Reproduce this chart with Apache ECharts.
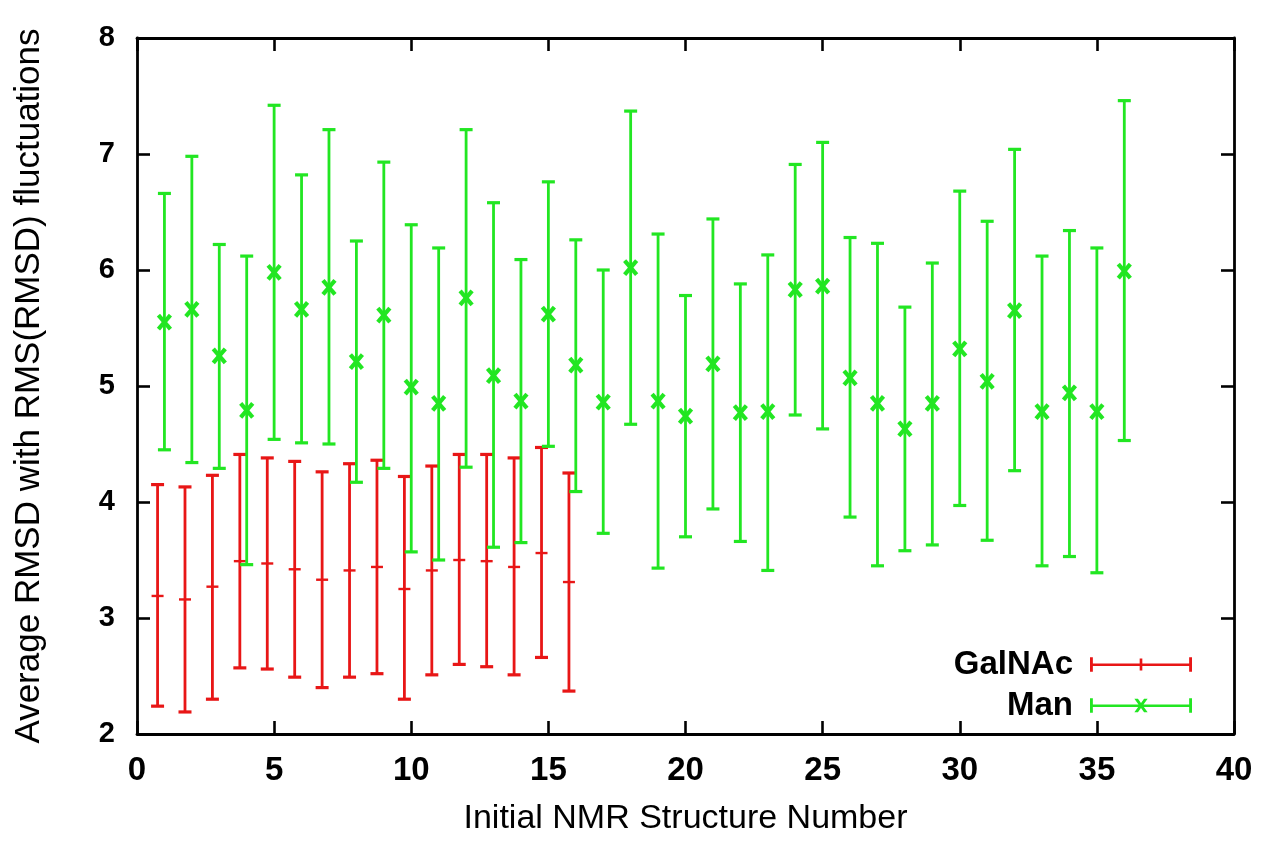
<!DOCTYPE html>
<html>
<head>
<meta charset="utf-8">
<script src="https://cdn.jsdelivr.net/npm/echarts@6/dist/echarts.min.js"></script>
<style>
html,body{margin:0;padding:0;background:#fff;}
#chart{width:1264px;height:843px;}
</style>
</head>
<body>
<div id="chart"></div>
<script>
// ---- data ----
const seriesNames = ['GalNAc', 'Man'];
const galnacX = [0.75, 1.75, 2.75, 3.75, 4.75, 5.75, 6.75, 7.75, 8.75, 9.75, 10.75, 11.75, 12.75, 13.75, 14.75, 15.75];
const galnacMean = [3.19, 3.16, 3.27, 3.49, 3.47, 3.42, 3.33, 3.41, 3.44, 3.25, 3.41, 3.50, 3.49, 3.44, 3.56, 3.31];
const galnacLow  = [2.24, 2.19, 2.30, 2.57, 2.56, 2.49, 2.40, 2.49, 2.52, 2.30, 2.51, 2.60, 2.58, 2.51, 2.66, 2.37];
const galnacHigh = [4.15, 4.13, 4.23, 4.41, 4.38, 4.35, 4.26, 4.33, 4.36, 4.22, 4.31, 4.41, 4.41, 4.38, 4.47, 4.25];

const manX = [1, 2, 3, 4, 5, 6, 7, 8, 9, 10, 11, 12, 13, 14, 15, 16, 17, 18, 19, 20, 21, 22, 23, 24, 25, 26, 27, 28, 29, 30, 31, 32, 33, 34, 35, 36];
const manMean = [5.55, 5.66, 5.26, 4.79, 5.98, 5.66, 5.85, 5.21, 5.61, 4.99, 4.85, 5.76, 5.09, 4.87, 5.62, 5.18, 4.86, 6.02, 4.87, 4.74, 5.19, 4.77, 4.78, 5.83, 5.86, 5.07, 4.85, 4.63, 4.85, 5.32, 5.04, 5.65, 4.78, 4.94, 4.78, 5.99];
const manLow  = [4.45, 4.34, 4.29, 3.46, 4.54, 4.51, 4.50, 4.17, 4.29, 3.57, 3.50, 4.30, 3.61, 3.65, 4.48, 4.09, 3.73, 4.67, 3.43, 3.70, 3.94, 3.66, 3.41, 4.75, 4.63, 3.87, 3.45, 3.58, 3.63, 3.97, 3.67, 4.27, 3.45, 3.53, 3.39, 4.53];
const manHigh = [6.66, 6.98, 6.22, 6.12, 7.42, 6.82, 7.21, 6.25, 6.93, 6.39, 6.19, 7.21, 6.58, 6.09, 6.76, 6.26, 6.00, 7.37, 6.31, 5.78, 6.44, 5.88, 6.13, 6.91, 7.10, 6.28, 6.23, 5.68, 6.06, 6.68, 6.42, 7.04, 6.12, 6.34, 6.19, 7.46];

const xAxisTitle = 'Initial NMR Structure Number';
const yAxisTitle = 'Average RMSD with RMS(RMSD) fluctuations';

// ---- styling ----
const RED = '#e81616';
const GREEN = '#22e622';
const FONT = "'Liberation Sans', Arial, Helvetica, sans-serif";

function buildRows(xs, mean, low, high) {
  return xs.map((x, i) => [x, mean[i], low[i], high[i]]);
}

function makeRenderer(color, markerType) {
  return function (params, api) {
    const x = api.value(0);
    const pMean = api.coord([x, api.value(1)]);
    const pLow = api.coord([x, api.value(2)]);
    const pHigh = api.coord([x, api.value(3)]);
    const capHalf = 6.5;
    const children = [
      { type: 'line', shape: { x1: pLow[0], y1: pLow[1], x2: pHigh[0], y2: pHigh[1] }, style: { stroke: color, lineWidth: 2.8 } },
      { type: 'line', shape: { x1: pLow[0] - capHalf, y1: pLow[1], x2: pLow[0] + capHalf, y2: pLow[1] }, style: { stroke: color, lineWidth: 3.2 } },
      { type: 'line', shape: { x1: pHigh[0] - capHalf, y1: pHigh[1], x2: pHigh[0] + capHalf, y2: pHigh[1] }, style: { stroke: color, lineWidth: 3.2 } }
    ];
    if (markerType === 'x') {
      const s = 6;
      children.push({ type: 'line', shape: { x1: pMean[0] - s, y1: pMean[1] - s - 1, x2: pMean[0] + s, y2: pMean[1] + s + 1 }, style: { stroke: color, lineWidth: 4.2 } });
      children.push({ type: 'line', shape: { x1: pMean[0] + s, y1: pMean[1] - s - 1, x2: pMean[0] - s, y2: pMean[1] + s + 1 }, style: { stroke: color, lineWidth: 4.2 } });
    } else {
      children.push({ type: 'line', shape: { x1: pMean[0] - 6, y1: pMean[1], x2: pMean[0] + 6, y2: pMean[1] }, style: { stroke: color, lineWidth: 2.4 } });
    }
    return { type: 'group', children: children };
  };
}

const iconGalNAc = 'path://M0 7L100 7L100 9.4L0 9.4Z M0 1L2.8 1L2.8 15L0 15Z M97.2 1L100 1L100 15L97.2 15Z M48.7 2L51.3 2L51.3 14L48.7 14Z';
const iconMan = 'path://M0 7L100 7L100 9.4L0 9.4Z M0 1L2.8 1L2.8 15L0 15Z M97.2 1L100 1L100 15L97.2 15Z M43.5 1.5L47 1.5L56.5 14.5L53 14.5Z M53 1.5L56.5 1.5L47 14.5L43.5 14.5Z';

const chart = echarts.init(document.getElementById('chart'), null, { renderer: 'canvas' });

const axisLineStyle = { color: '#000', width: 2.8 };
const tickStyle = { show: true, inside: true, length: 13, lineStyle: { color: '#000', width: 2.6 } };

const option = {
  backgroundColor: '#ffffff',
  animation: false,
  textStyle: { fontFamily: FONT },
  grid: { left: 137, right: 30, top: 38, bottom: 109, containLabel: false, outerBoundsMode: 'none' },
  legend: {
    orient: 'vertical',
    align: 'right',
    right: 72,
    top: 648,
    padding: 0,
    itemGap: 8,
    itemWidth: 102,
    itemHeight: 16,
    selectedMode: false,
    textStyle: { fontSize: 33, fontWeight: 'bold', color: '#000', fontFamily: FONT, lineHeight: 32, padding: [0, 12, 0, 0] },
    itemStyle: { borderWidth: 0 },
    data: [
      { name: seriesNames[0], icon: iconGalNAc },
      { name: seriesNames[1], icon: iconMan }
    ]
  },
  xAxis: [
    {
      type: 'value', min: 0, max: 40, interval: 5, position: 'bottom',
      name: xAxisTitle, nameLocation: 'middle', nameGap: 68,
      nameTextStyle: { fontSize: 34, color: '#000', fontFamily: FONT },
      axisLine: { show: true, onZero: false, lineStyle: axisLineStyle },
      axisTick: tickStyle,
      axisLabel: { show: true, fontSize: 33, fontWeight: 'bold', color: '#000', margin: 20, fontFamily: FONT },
      splitLine: { show: false }
    },
    {
      type: 'value', min: 0, max: 40, interval: 5, position: 'top',
      axisLine: { show: true, onZero: false, lineStyle: axisLineStyle },
      axisTick: tickStyle,
      axisLabel: { show: false },
      splitLine: { show: false }
    }
  ],
  yAxis: [
    {
      type: 'value', min: 2, max: 8, interval: 1, position: 'left',
      name: yAxisTitle, nameLocation: 'middle', nameGap: 90, nameRotate: 90,
      nameTextStyle: { fontSize: 35, color: '#000', fontFamily: FONT },
      axisLine: { show: true, onZero: false, lineStyle: axisLineStyle },
      axisTick: tickStyle,
      axisLabel: { show: true, fontSize: 29, fontWeight: 'bold', color: '#000', margin: 22, fontFamily: FONT },
      splitLine: { show: false }
    },
    {
      type: 'value', min: 2, max: 8, interval: 1, position: 'right',
      axisLine: { show: true, onZero: false, lineStyle: axisLineStyle },
      axisTick: tickStyle,
      axisLabel: { show: false },
      splitLine: { show: false }
    }
  ],
  series: [
    {
      name: seriesNames[0],
      type: 'custom',
      xAxisIndex: 0, yAxisIndex: 0,
      itemStyle: { color: RED },
      renderItem: makeRenderer(RED, 'tick'),
      encode: { x: 0, y: [1, 2, 3] },
      data: buildRows(galnacX, galnacMean, galnacLow, galnacHigh),
      z: 2
    },
    {
      name: seriesNames[1],
      type: 'custom',
      xAxisIndex: 0, yAxisIndex: 0,
      itemStyle: { color: GREEN },
      renderItem: makeRenderer(GREEN, 'x'),
      encode: { x: 0, y: [1, 2, 3] },
      data: buildRows(manX, manMean, manLow, manHigh),
      z: 3
    }
  ]
};
chart.setOption(option);
</script>
</body>
</html>
